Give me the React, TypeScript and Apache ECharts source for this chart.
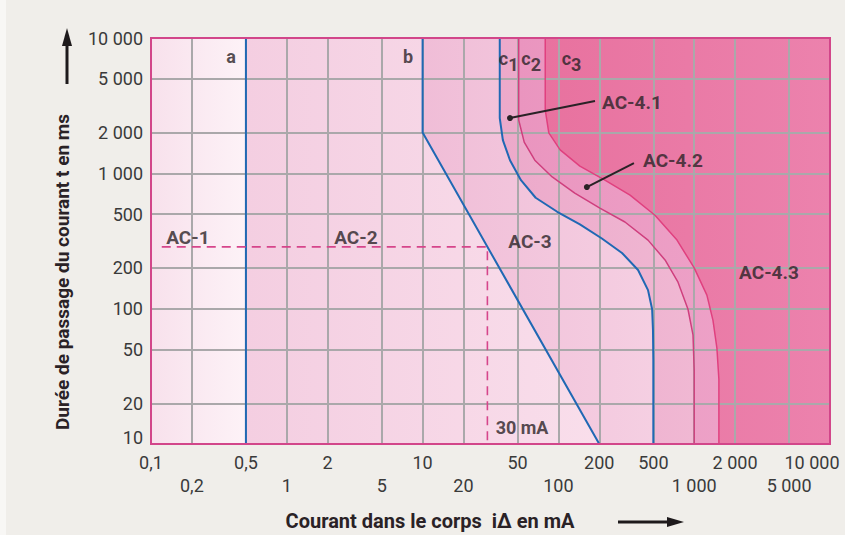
import React, { useEffect, useRef } from "react";
import * as echarts from "echarts";

// ---- axis ticks ----
const xTicks = [0.1, 0.2, 0.5, 1, 2, 5, 10, 20, 50, 100, 200, 500, 1000, 2000, 5000, 10000];
const xTickLabels = ["0,1", "0,2", "0,5", "1", "2", "5", "10", "20", "50", "100", "200", "500", "1 000", "2 000", "5 000", "10 000"];
const xUpperRow = [0.1, 0.5, 2, 10, 50, 200, 500, 2000, 10000];
const xLowerRow = [0.2, 1, 5, 20, 100, 1000, 5000];
const yTicks = [10, 20, 50, 100, 200, 500, 1000, 2000, 5000, 10000];
const yTickLabels = ["10", "20", "50", "100", "200", "500", "1 000", "2 000", "5 000", "10 000"];

// ---- curves (current mA, duration ms) ----
const plotLeftEdge = [[0.1, 10000], [0.1, 10]];
const curveA = [[0.5, 10000], [0.5, 10]];
const curveB = [[10, 10000], [10, 2000], [200, 10]];
const curveC1 = [[37, 10000], [37, 2560], [39, 1760], [44, 1250], [53, 890], [68, 660], [98, 520], [144, 420], [209, 330], [294, 258], [386, 193], [457, 137], [490, 99], [497, 70], [500, 42], [500, 10]];
const curveC2 = [[51, 10000], [51, 2480], [56, 1700], [67, 1250], [90, 940], [132, 715], [202, 554], [309, 437], [457, 321], [610, 229], [760, 157], [900, 99], [980, 64], [1000, 35], [1000, 10]];
const curveC3 = [[80, 10000], [80, 2940], [85, 1990], [103, 1490], [144, 1130], [220, 890], [337, 690], [514, 490], [747, 321], [1000, 200], [1240, 126], [1375, 82], [1470, 51], [1520, 30], [1520, 10]];
const dashed30mA = [[0.12, 286], [30, 286], [30, 10]];

// ---- zones ----
const zoneNames = ["AC-1", "AC-2", "AC-3", "AC-4.1", "AC-4.2", "AC-4.3"];
const zoneBounds = [plotLeftEdge, curveA, curveB, curveC1, curveC2, curveC3];
const zoneColorsDark = ["#f8e1ec", "#f4cee1", "#f0bdd7", "#eca9ca", "#ea95bf", "#e8729f"];
const zoneColorsLight = ["#fdf2f7", "#f9deeb", "#f5cfe2", "#f0b8d3", "#eda1c7", "#ec82ad"];
const zoneLabelPos = [[0.187, 338], [3.23, 338], [61.8, 316], [348, 3365], [698, 1254], [3556, 186]];

// ---- curve labels ----
const curveLabels = ["a", "b", "c{s|1}", "c{s|2}", "c{s|3}"];
const curveLabelPos = [[0.388, 7360], [7.8, 7360], [43, 7000], [63, 7000], [125, 7000]];
const label30mA = [[54, 13.3]];
const pointer41 = [[44, 2560], [186, 3420]];
const pointer42 = [[162, 792], [360, 1191]];

const FONT = "Roboto, 'Noto Sans', sans-serif";
const TEXT_DARK = "#2a2226";
const TICK_COLOR = "#3a3a3a";

export default function App() {
  const ref = useRef<HTMLDivElement>(null);

  useEffect(() => {
    if (!ref.current) return;
    const chart = echarts.init(ref.current, undefined, { renderer: "svg" });

    const near = (a: number, b: number) => Math.abs(a - b) <= Math.abs(b) * 1e-6;
    const fmtX = (v: number) => {
      const i = xTicks.findIndex((t) => near(v, t));
      if (i < 0) return "";
      const s = xTickLabels[i];
      if (xTicks[i] === 10000) return "{r|" + s + "}";
      return s;
    };
    const fmtY = (v: number) => {
      const i = yTicks.findIndex((t) => near(v, t));
      if (i < 0) return "";
      if (yTicks[i] === 10) return "{lo|" + yTickLabels[i] + "}";
      return yTickLabels[i];
    };

    const lineSeries = (data: number[][], color: string, width: number, extra: any = {}) => ({
      type: "line",
      data,
      showSymbol: false,
      silent: true,
      z: 5,
      lineStyle: { color, width },
      ...extra,
    });

    const xBase = {
      type: "log",
      logBase: 10,
      min: 0.1,
      max: 10000,
      position: "bottom",
      axisLine: { show: false },
    };

    const option: any = {
      animation: false,
      backgroundColor: "#f0eeea",
      grid: {
        left: 151,
        right: 15,
        top: 38,
        bottom: 91,
        show: true,
        z: 10,
        outerBoundsMode: "none",
        containLabel: false,
        backgroundColor: "transparent",
        borderColor: "#d2468a",
        borderWidth: 2,
      },
      xAxis: [
        {
          ...xBase,
          z: 3,
          axisTick: { show: false, customValues: xTicks },
          axisLabel: {
            customValues: xUpperRow,
            formatter: fmtX,
            showMinLabel: true,
            showMaxLabel: true,
            hideOverlap: false,
            fontSize: 18,
            fontFamily: FONT,
            color: TICK_COLOR,
            margin: 9,
            rich: { r: { padding: [0, 36, 0, 0] } },
          },
          splitLine: { show: true, lineStyle: { color: "#aaa8aa", width: 2 } },
        },
        {
          ...xBase,
          offset: 23,
          z: 3,
          axisTick: { show: false, customValues: xLowerRow },
          axisLabel: {
            customValues: xLowerRow,
            formatter: fmtX,
            showMinLabel: true,
            showMaxLabel: true,
            hideOverlap: false,
            fontSize: 18,
            fontFamily: FONT,
            color: TICK_COLOR,
            margin: 9,
          },
          splitLine: { show: false },
        },
      ],
      yAxis: {
        type: "log",
        logBase: 10,
        min: 10,
        max: 10000,
        z: 3,
        axisLine: { show: false },
        axisTick: { show: false, customValues: yTicks },
        axisLabel: {
          customValues: yTicks,
          formatter: fmtY,
          showMinLabel: true,
          showMaxLabel: true,
          fontSize: 18,
          fontFamily: FONT,
          color: TICK_COLOR,
          margin: 8,
          rich: { lo: { padding: [0, 0, 14, 0] } },
        },
        splitLine: { show: true, lineStyle: { color: "#aaa8aa", width: 2 } },
      },
      series: [
        {
          type: "custom",
          coordinateSystem: "cartesian2d",
          silent: true,
          z: 1,
          data: zoneNames.map(() => [1, 100]),
          renderItem: (params: any, api: any) => {
            const i = params.dataIndex;
            const pts = zoneBounds[i].concat([[10000, 10], [10000, 10000]]).map((p) => api.coord(p));
            const x0 = Math.min(...zoneBounds[i].map((p) => api.coord(p)[0]));
            const x1 = i + 1 < zoneBounds.length
              ? Math.max(...zoneBounds[i + 1].map((p) => api.coord(p)[0]))
              : api.coord([10000, 10])[0];
            return {
              type: "polygon",
              shape: { points: pts },
              style: {
                fill: {
                  type: "linear",
                  x: x0,
                  y: 0,
                  x2: x1,
                  y2: 0,
                  global: true,
                  colorStops: [
                    { offset: 0, color: zoneColorsDark[i] },
                    { offset: 1, color: zoneColorsLight[i] },
                  ],
                },
              },
            };
          },
        },
        lineSeries(curveA, "#2068b4", 2),
        lineSeries(curveB, "#2068b4", 2),
        lineSeries(curveC1, "#2068b4", 2),
        lineSeries(curveC2, "#cf3f7e", 1.5),
        lineSeries(curveC3, "#e0407f", 1.5),
        lineSeries(dashed30mA, "#d6458b", 1.6, { lineStyle: { color: "#d6458b", width: 1.6, type: [9, 6] } }),
        lineSeries(pointer41, TEXT_DARK, 2, {
          showSymbol: true,
          symbol: "circle",
          symbolSize: (_v: any, p: any) => (p.dataIndex === 0 ? 6 : 0),
          itemStyle: { color: TEXT_DARK },
          z: 6,
        }),
        lineSeries(pointer42, TEXT_DARK, 2, {
          showSymbol: true,
          symbol: "circle",
          symbolSize: (_v: any, p: any) => (p.dataIndex === 0 ? 6 : 0),
          itemStyle: { color: TEXT_DARK },
          z: 6,
        }),
        {
          type: "scatter",
          silent: true,
          z: 7,
          symbolSize: 0,
          data: zoneLabelPos.map((p, i) => ({ value: p, name: zoneNames[i] })),
          label: {
            show: true,
            position: "inside",
            formatter: "{b}",
            fontSize: 19,
            fontWeight: "bold",
            fontFamily: FONT,
            color: TEXT_DARK,
          },
        },
        {
          type: "scatter",
          silent: true,
          z: 7,
          symbolSize: 0,
          data: curveLabelPos.map((p, i) => ({ value: p, name: curveLabels[i] })),
          label: {
            show: true,
            position: "inside",
            formatter: (p: any) => curveLabels[p.dataIndex],
            fontSize: 18,
            fontWeight: "bold",
            fontFamily: FONT,
            color: TEXT_DARK,
            rich: { s: { fontSize: 18, fontWeight: "bold", fontFamily: FONT, color: TEXT_DARK, padding: [12, 0, 0, 0] } },
          },
        },
        {
          type: "scatter",
          silent: true,
          z: 7,
          symbolSize: 0,
          data: label30mA.map((p) => ({ value: p, name: "30 mA" })),
          label: {
            show: true,
            position: "inside",
            formatter: "{b}",
            fontSize: 18,
            fontWeight: "bold",
            fontFamily: FONT,
            color: TEXT_DARK,
          },
        },
      ],
      graphic: [
        { type: "rect", left: 0, top: 0, shape: { width: 6, height: 535 }, style: { fill: "#f8f7f5" }, silent: true },
        {
          type: "text",
          x: 62,
          y: 272,
          rotation: Math.PI / 2,
          style: {
            text: "Durée de passage du courant t en ms",
            fill: TEXT_DARK,
            font: "bold 19px " + FONT,
            align: "center",
            verticalAlign: "middle",
          },
          silent: true,
        },
        { type: "line", shape: { x1: 67, y1: 84, x2: 67, y2: 42 }, style: { stroke: "#1e1a1c", lineWidth: 3 }, silent: true },
        { type: "polygon", shape: { points: [[67, 28], [62, 46], [72, 46]] }, style: { fill: "#1e1a1c" }, silent: true },
        {
          type: "text",
          x: 430,
          y: 521,
          style: {
            text: "Courant dans le corps  iΔ en mA",
            fill: TEXT_DARK,
            font: "bold 20px " + FONT,
            align: "center",
            verticalAlign: "middle",
          },
          silent: true,
        },
        { type: "line", shape: { x1: 618, y1: 522, x2: 670, y2: 522 }, style: { stroke: "#1e1a1c", lineWidth: 3 }, silent: true },
        { type: "polygon", shape: { points: [[684, 522], [667, 517], [667, 527]] }, style: { fill: "#1e1a1c" }, silent: true },
      ],
    };

    chart.setOption(option);
    return () => chart.dispose();
  }, []);

  return (
    <div
      ref={ref}
      style={{ position: "fixed", left: 0, top: 0, width: 845, height: 535, background: "#f0eeea" }}
    />
  );
}
